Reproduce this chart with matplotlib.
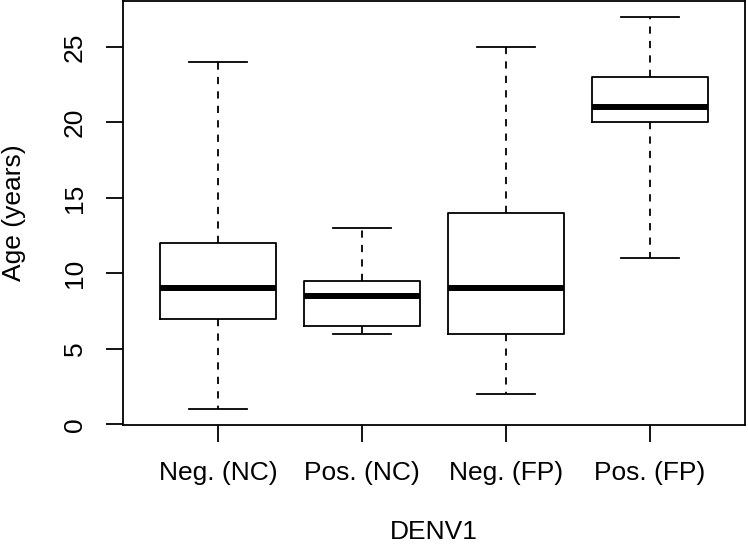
import matplotlib
matplotlib.use("Agg")
import matplotlib.pyplot as plt

# groups and box statistics
groups = ["Neg. (NC)", "Pos. (NC)", "Neg. (FP)", "Pos. (FP)"]
whisker_low = [1, 6, 2, 11]
q1 = [7, 6.5, 6, 20]
median = [9, 8.5, 9, 21]
q3 = [12, 9.5, 14, 23]
whisker_high = [24, 13, 25, 27]
y_ticks = [0, 5, 10, 15, 20, 25]

plt.rcParams['font.family'] = ['Liberation Sans', 'DejaVu Sans']

stats = []
for i, name in enumerate(groups):
    stats.append({'label': name, 'whislo': whisker_low[i], 'q1': q1[i],
                  'med': median[i], 'q3': q3[i], 'whishi': whisker_high[i],
                  'fliers': []})

fig = plt.figure(figsize=(7.48, 5.47), dpi=100)
ax = fig.add_axes([123 / 748, (547 - 425) / 547, 622 / 748, 424 / 547])

lw = 1.3
ax.bxp(stats, positions=range(1, len(groups) + 1), widths=0.8,
       showfliers=False, patch_artist=False,
       boxprops=dict(color='black', linewidth=lw),
       medianprops=dict(color='black', linewidth=4.3, solid_capstyle='butt'),
       whiskerprops=dict(color='black', linewidth=lw, linestyle=(0, (4, 4))),
       capprops=dict(color='black', linewidth=lw),
       capwidths=0.4)

ax.set_xlim(0.34, 4.66)
ax.set_ylim(-0.04, 28.04)
ax.set_yticks(y_ticks)
ax.set_yticklabels([str(v) for v in y_ticks], rotation=90, va='center')
ax.set_xticks(range(1, len(groups) + 1))
ax.set_xticklabels(groups)

for s in ax.spines.values():
    s.set_linewidth(lw)
ax.tick_params(direction='out', length=12.2, width=lw, labelsize=19, pad=14)

ax.set_xlabel("DENV1", fontsize=19, labelpad=25)
ax.set_ylabel("Age (years)", fontsize=19, labelpad=26)

fig.savefig("out.png", dpi=100)
